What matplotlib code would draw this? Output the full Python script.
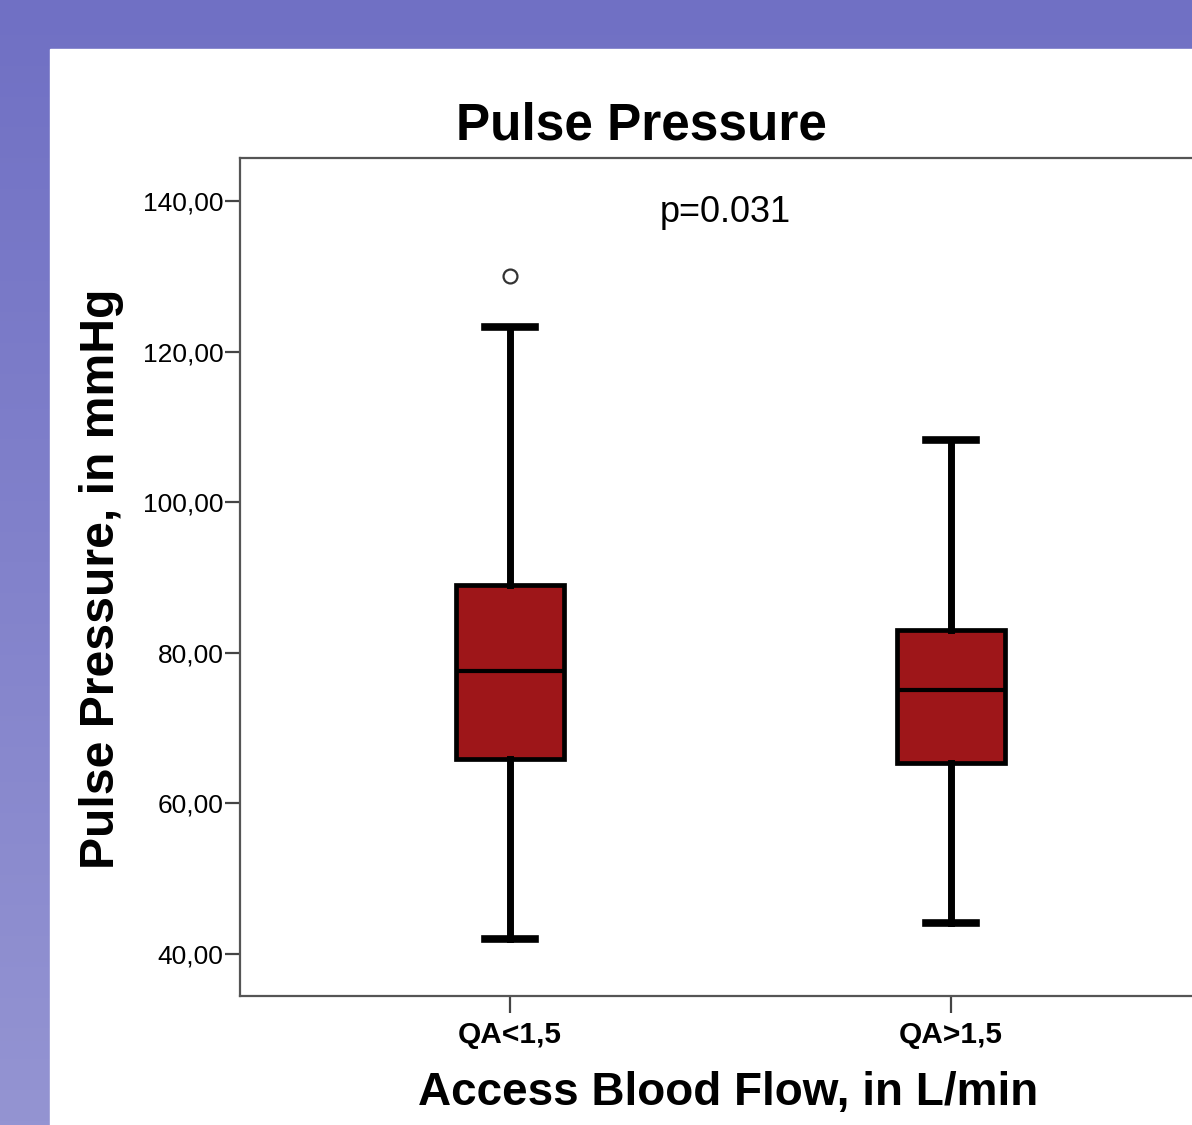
import numpy as np
import matplotlib.pyplot as plt
from matplotlib.ticker import FuncFormatter
from matplotlib.colors import LinearSegmentedColormap

plt.rcParams['font.family'] = ['Liberation Sans', 'DejaVu Sans']

groups = ['QA<1,5', 'QA>1,5']
whislo = [42.0, 44.1]
q1 = [65.9, 65.4]
med = [77.6, 75.1]
q3 = [89.0, 83.0]
whishi = [123.3, 108.3]
fliers = [[130.0], []]
yticks = [40, 60, 80, 100, 120, 140]

fig = plt.figure(figsize=(11.92, 11.25), dpi=100)

# purple background with a soft vertical gradient
bg = fig.add_axes([0, 0, 1, 1])
cmap = LinearSegmentedColormap.from_list('bg', ['#7070c4', '#9494d2'])
bg.imshow(np.linspace(0, 1, 256).reshape(-1, 1), aspect='auto', cmap=cmap,
          extent=[0, 1, 0, 1], origin='upper')
bg.add_patch(plt.Rectangle((50 / 1192, 0), 1, (1125 - 49) / 1125,
                           color='white', zorder=2))
bg.set_xlim(0, 1)
bg.set_ylim(0, 1)
bg.axis('off')

# axes run off the right edge, like the screenshot
ax = fig.add_axes([240 / 1192, 129 / 1125, 981 / 1192, 838 / 1125])
ax.set_facecolor('white')

stats = []
for i in range(len(groups)):
    stats.append(dict(label=groups[i], whislo=whislo[i], q1=q1[i], med=med[i],
                      q3=q3[i], whishi=whishi[i], fliers=fliers[i]))

ax.bxp(stats, positions=[1, 2], widths=0.245, capwidths=0.115,
       patch_artist=True,
       boxprops=dict(facecolor='#9e1619', edgecolor='black', linewidth=3.4),
       medianprops=dict(color='black', linewidth=3.0),
       whiskerprops=dict(color='black', linewidth=5),
       capprops=dict(color='black', linewidth=5.5),
       flierprops=dict(marker='o', markerfacecolor='white',
                       markeredgecolor='#333333', markersize=10,
                       markeredgewidth=1.6))

ax.set_xlim(0.388, 2.612)
ax.set_ylim(34.4, 145.7)
ax.set_yticks(yticks)
ax.yaxis.set_major_formatter(FuncFormatter(lambda v, p: f'{v:.2f}'.replace('.', ',')))
ax.set_xticks([1, 2])
ax.set_xticklabels(groups, fontsize=21.5, fontweight='bold')
ax.tick_params(axis='y', labelsize=19, length=11, width=1.6, color='#444444', pad=1)
ax.tick_params(axis='x', length=12, width=1.6, color='#444444', pad=6)
for s in ax.spines.values():
    s.set_color('#555555')
    s.set_linewidth(1.6)

ax.text(1.4875, 138.4, 'p=0.031', fontsize=26, ha='center', va='center')

fig.text(641 / 1192, 1 - 140 / 1125, 'Pulse Pressure', fontsize=37,
         fontweight='bold', ha='center', va='baseline')
fig.text(102 / 1192, 1 - 579 / 1125, 'Pulse Pressure, in mmHg', fontsize=34.7,
         fontweight='bold', ha='center', va='center', rotation=90)
fig.text(728 / 1192, 1 - 1105 / 1125, 'Access Blood Flow, in L/min', fontsize=33,
         fontweight='bold', ha='center', va='baseline')

fig.savefig('out.png', dpi=100)
